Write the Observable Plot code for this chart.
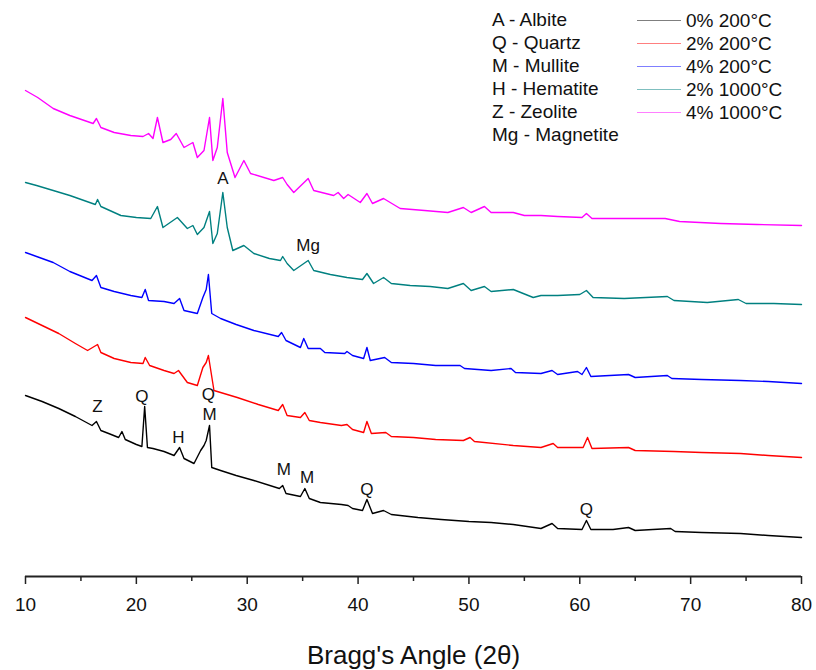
<!DOCTYPE html>
<html>
<head>
<meta charset="utf-8">
<script src="https://cdn.jsdelivr.net/npm/d3@7"></script>
<script src="https://cdn.jsdelivr.net/npm/@observablehq/plot@0.6"></script>
<style>
  body { margin: 0; background: #fff; font-family: "Liberation Sans", Arial, sans-serif; }
  #wrap { position: relative; width: 816px; height: 670px; }
  #legend { position: absolute; left: 0; top: 0; width: 816px; height: 160px; font-size: 19px; color: #111; }
  .ph { position: absolute; left: 492px; line-height: 23px; }
  .li { position: absolute; left: 637px; height: 23px; }
  .li span.sw { position: absolute; left: 0; top: 11px; width: 44px; height: 0; border-top: 1.5px solid; opacity: 0.5; }
  .li span.tx { position: absolute; left: 49px; top: 0; line-height: 23px; white-space: nowrap; }
</style>
</head>
<body>
<div id="wrap">
  <div id="chart"></div>
  <div id="legend"></div>
</div>
<script>
// ---- Data, intensity in arbitrary units ----
const seriesNames = ["0% 200°C", "2% 200°C", "4% 200°C", "2% 1000°C", "4% 1000°C"];
const seriesColors = ["#000000", "#ff0000", "#0000ff", "#008080", "#ff00ff"];
const phaseLegend = ["A - Albite", "Q - Quartz", "M - Mullite", "H - Hematite", "Z - Zeolite", "Mg - Magnetite"];

const s0_200 = [[10,181],[11.5,175],[13,168],[14.5,160],[16.0,151],[16.4,155],[16.8,146],[17.5,143],[18.4,139],[18.7,145],[19.0,137],[20.0,132],[20.5,130],[20.75,170],[21.0,129],[21.5,128],[22.5,125],[23.4,121],[23.9,129],[24.3,118],[25.2,113],[25.8,126],[26.1,131],[26.3,136],[26.6,151],[26.8,109],[27.6,106],[29,101],[30.6,96],[32.9,88],[33.2,91],[33.5,83],[34.8,80],[35.2,88],[35.6,78],[36.6,74],[38.5,72],[39.1,71],[39.5,68],[40.4,66],[40.8,77],[41.3,63],[42.3,66],[43,62],[45.4,59],[47.5,57],[50,55],[52,54],[54,52],[56.5,48],[57.5,53],[58,48],[60.2,47],[60.6,56],[61,47],[63,47],[64.4,49],[65,46],[68.2,48],[68.6,45],[71,44],[74.5,43],[77,41],[80,39]];
const s2_200 = [[10,259],[11.5,251],[13,243],[14.5,233],[15.6,226],[16.5,232],[16.8,224],[18,218],[19.5,214],[20.6,213],[20.8,219],[21.2,211],[22.5,206],[23.4,203],[23.8,206],[24.6,194],[25.5,191],[26,209],[26.3,214],[26.5,221],[27,186],[29.1,179],[31,172],[32.8,166],[33.2,172],[33.6,161],[34.8,159],[35.2,164],[35.6,156],[36.6,154],[38.5,151],[39,152],[39.5,147],[40.5,144],[40.8,155],[41.2,143],[42.5,144],[43,140],[45,139],[47,137],[49.5,136],[50.1,139],[50.5,135],[54,131],[56.5,129],[57.6,133],[58,129],[60.3,129],[60.7,139],[61.1,128],[64.4,129],[65,126],[68.5,125],[71,124],[74.5,123],[77,121],[80,119]];
const s4_200 = [[10,324],[11,320],[12.5,314],[14,305],[16,296],[16.4,301],[16.8,289],[18,285],[19.5,281],[20.5,279],[20.8,287],[21.1,276],[22.5,275],[23.4,273],[23.9,278],[24.3,266],[25.5,263],[26,279],[26.3,287],[26.5,302],[26.8,263],[27.6,258],[29,252],[30.6,246],[32.8,240],[33.1,244],[33.5,236],[34.8,229],[35.1,238],[35.5,228],[36.6,228],[37,224],[38.8,223],[39,225],[39.5,221],[40.5,218],[40.8,229],[41.1,216],[42.4,219],[43,214],[45,213],[47,211],[49.2,211],[49.6,208],[52,206],[53.8,208],[54.2,204],[56.5,203],[57.5,206],[58,202],[59.8,205],[60.2,202],[60.6,209],[61,200],[64.4,202],[65,199],[67.9,201],[68.3,198],[71,197],[74.5,196],[77,195],[80,193]];
const s2_1000 = [[10,394],[11,391],[12.5,386],[14,381],[16.3,372],[16.5,377],[16.8,370],[18.6,361],[20,359],[21.3,358],[21.9,370],[22.4,349],[23.7,359],[24.6,348],[25.1,351],[25.5,342],[26.1,349],[26.6,365],[26.9,333],[27.3,343],[27.8,384],[28.2,349],[28.7,326],[29.7,331],[30.6,323],[32,318],[33,316],[33.2,320],[33.6,313],[34.2,306],[35.5,316],[36,306],[37.5,302],[39,299],[40.4,297],[40.8,303],[41.4,293],[42.3,299],[43,293],[44.7,291],[46.5,290],[48.1,288],[49.5,293],[50.2,286],[51.4,290],[52,285],[54,287],[55.8,279],[56.5,281],[58,281],[60,282],[60.6,286],[61.2,279],[64,278],[67.9,280],[68.5,276],[71.5,274],[74.3,277],[75,273],[77.5,273],[80,272]];
const s4_1000 = [[10,486],[11.1,479],[12.5,468],[14,461],[16.1,453],[16.4,458],[16.8,449],[18,444],[19.5,441],[20.6,440],[21.1,443],[21.5,438],[21.9,459],[22.4,434],[23.1,437],[23.6,443],[24.3,429],[25.1,434],[25.5,419],[26.1,426],[26.6,459],[26.9,416],[27.3,429],[27.8,478],[28.2,424],[28.9,399],[29.7,416],[30.3,403],[32.4,396],[33.2,399],[33.6,392],[34.2,384],[35.5,398],[36,386],[37.8,381],[38.2,384],[38.7,378],[39.1,382],[40.2,374],[40.8,383],[41.3,373],[42.3,378],[43.8,368],[46,366],[48.1,364],[49.5,369],[50.2,364],[51.4,370],[52,364],[54,364],[55,361],[56.5,361],[58,360],[60.2,359],[60.6,363],[61.1,358],[64,358],[67.7,358],[69,355],[72.7,353],[76,352],[80,351]];

const peakLabels = ["A", "Mg", "Z", "Q", "Q", "M", "H", "M", "M", "Q", "Q"];
const peakAngles = [27.8, 35.5, 16.5, 20.5, 26.5, 26.6, 23.8, 33.3, 35.4, 40.8, 60.6];
const peakHeights = [398, 331, 170, 180, 182, 162, 139, 107, 99, 87, 67];

const majorTicks = [10, 20, 30, 40, 50, 60, 70, 80];
const minorTicks = [15, 25, 35, 45, 55, 65, 75];
const xLabel = "Bragg's Angle (2θ)";

// ---- Build tables ----
const allSeries = [s0_200, s2_200, s4_200, s2_1000, s4_1000];
const rows = allSeries.flatMap((s, i) => s.map(([a, v]) => ({angle: a, intensity: v, series: seriesNames[i]})));
const labels = peakLabels.map((t, i) => ({text: t, angle: peakAngles[i], intensity: peakHeights[i]}));

const font = "'Liberation Sans', Arial, sans-serif";

const chart = Plot.plot({
  width: 816,
  height: 670,
  marginLeft: 25,
  marginRight: 15,
  marginTop: 0,
  marginBottom: 94,
  style: {fontFamily: font, fontSize: "19px", color: "#111", background: "white"},
  x: {domain: [10, 80]},
  y: {domain: [0, 576], axis: null},
  marks: [
    ...allSeries.map((s, i) => Plot.line(rows.filter(d => d.series === seriesNames[i]), {
      x: "angle", y: "intensity", stroke: seriesColors[i], strokeWidth: 1.4, strokeLinejoin: "round"
    })),
    Plot.text(labels, {x: "angle", y: "intensity", text: "text", fontSize: 17, fill: "#111"}),
    Plot.axisX({ticks: minorTicks, tickSize: 5, tickFormat: () => "", label: null, strokeWidth: 1.5, stroke: "#222"}),
    Plot.axisX({ticks: majorTicks, tickSize: 8, tickPadding: 13, label: null, fontSize: 19, strokeWidth: 1.5, stroke: "#222", fill: "#111"}),
    Plot.ruleY([0], {stroke: "#222", strokeWidth: 2}),
    Plot.text([xLabel], {frameAnchor: "bottom", lineAnchor: "middle", dy: 79, fontSize: 26, fill: "#111"})
  ]
});
document.getElementById("chart").appendChild(chart);

// ---- Legend ----
const legend = document.getElementById("legend");
phaseLegend.forEach((t, i) => {
  const d = document.createElement("div");
  d.className = "ph";
  d.style.top = (8 + i * 23) + "px";
  d.textContent = t;
  legend.appendChild(d);
});
seriesNames.forEach((n, i) => {
  const d = document.createElement("div");
  d.className = "li";
  d.style.top = (9 + i * 23) + "px";
  const sw = document.createElement("span");
  sw.className = "sw";
  sw.style.borderColor = seriesColors[i];
  const tx = document.createElement("span");
  tx.className = "tx";
  tx.textContent = n;
  d.appendChild(sw);
  d.appendChild(tx);
  legend.appendChild(d);
});
</script>
</body>
</html>
